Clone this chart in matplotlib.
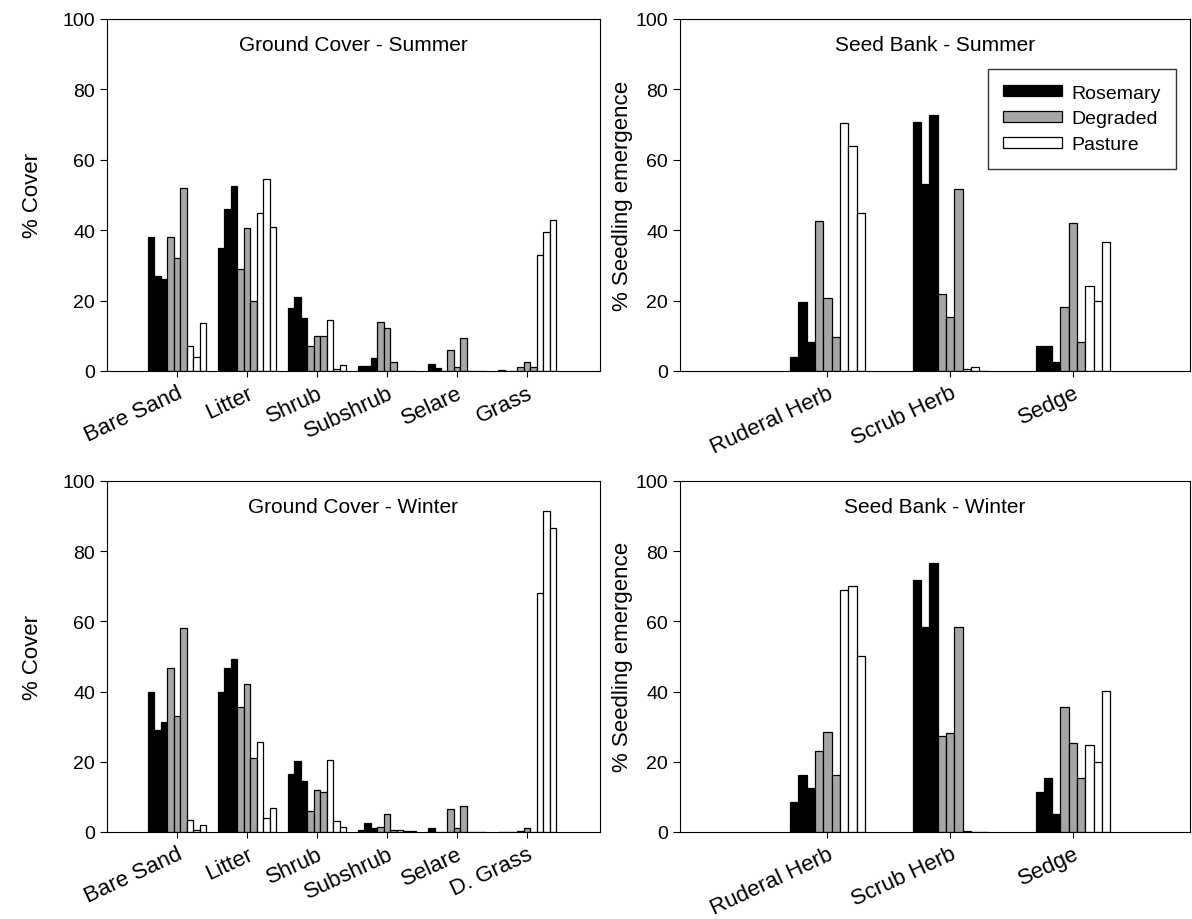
import numpy as np
import matplotlib
matplotlib.use("Agg")
import matplotlib.pyplot as plt

plt.rcParams["font.family"] = ["Liberation Sans", "DejaVu Sans"]

treatments = ["Rosemary", "Degraded", "Pasture"]
colors = ["black", "#a6a6a6", "white"]

cover_summer_cats = ["Bare Sand", "Litter", "Shrub", "Subshrub", "Selare", "Grass"]
cover_winter_cats = ["Bare Sand", "Litter", "Shrub", "Subshrub", "Selare", "D. Grass"]
seed_cats = ["Ruderal Herb", "Scrub Herb", "Sedge"]

# three sites per treatment, per category
cover_summer = {
    "Rosemary": [[38, 27, 26], [35, 46, 52.5], [18, 21, 15], [1.4, 1.4, 3.7], [2, 0.7, 0], [0.3, 0, 0]],
    "Degraded": [[38, 32, 52], [29, 40.5, 20], [7, 10, 10], [13.9, 12.2, 2.5], [6, 1, 9.5], [1, 2.5, 1]],
    "Pasture": [[7, 4, 13.5], [45, 54.5, 41], [14.5, 0.5, 1.7], [0, 0, 0], [0, 0, 0], [33, 39.5, 43]],
}
cover_winter = {
    "Rosemary": [[39.9, 29, 31.3], [39.9, 46.7, 49.3], [16.5, 20.3, 14.5], [0.5, 2.5, 1], [1, 0, 0], [0, 0, 0]],
    "Degraded": [[46.7, 33, 58], [35.6, 42.2, 21], [6, 12, 11.5], [1.5, 5, 0.5], [6.5, 1, 7.5], [0.3, 1, 0]],
    "Pasture": [[3.4, 0.5, 2], [25.6, 4, 6.8], [20.5, 3, 1.5], [0.5, 0.3, 0.3], [0, 0, 0], [68, 91.5, 86.6]],
}
seed_summer = {
    "Rosemary": [[4, 19.6, 8.2], [70.7, 53, 72.7], [7.1, 7.1, 2.6]],
    "Degraded": [[42.6, 20.7, 9.7], [21.9, 15.3, 51.7], [18.2, 42, 8.2]],
    "Pasture": [[70.5, 63.9, 44.9], [0.5, 1.2, 0], [24.2, 20, 36.6]],
}
seed_winter = {
    "Rosemary": [[8.5, 16.2, 12.5], [71.8, 58.4, 76.6], [11.4, 15.4, 5.1]],
    "Degraded": [[23, 28.5, 16.2], [27.4, 28.2, 58.4], [35.6, 25.4, 15.4]],
    "Pasture": [[69, 70, 50], [0.3, 0, 0], [24.8, 20, 40.2]],
}


def draw_panel(ax, cats, data, title, ylabel, group_w, xlim, ypad, legend=False):
    x = np.arange(len(cats))
    bw = group_w / 9
    for t, (name, col) in enumerate(zip(treatments, colors)):
        vals = np.array(data[name])
        for s in range(3):
            k = t * 3 + s
            off = -group_w / 2 + bw * (k + 0.5)
            ax.bar(x + off, vals[:, s], width=bw, color=col, edgecolor="black",
                   linewidth=0.9, label=name if s == 0 else None)
    ax.set_xlim(*xlim)
    ax.set_ylim(0, 100)
    ax.set_yticks([0, 20, 40, 60, 80, 100])
    ax.set_xticks(x)
    ax.set_xticklabels(cats, rotation=25, ha="right", rotation_mode="anchor", fontsize=16)
    ax.tick_params(axis="y", labelsize=14, direction="out", length=5)
    ax.tick_params(axis="x", direction="out", length=4, pad=4)
    ax.set_ylabel(ylabel, fontsize=16, labelpad=ypad)
    ax.text(0.5, 0.955, title, transform=ax.transAxes, ha="center", va="top", fontsize=15)
    for sp in ax.spines.values():
        sp.set_linewidth(0.8)
    if legend:
        ax.legend(loc="upper right", fontsize=14, frameon=True, fancybox=False,
                  edgecolor="black", handlelength=3.0, handleheight=0.5,
                  borderpad=0.8, labelspacing=0.45, handletextpad=0.5,
                  bbox_to_anchor=(0.993, 0.885))


fig = plt.figure(figsize=(11.92, 9.2), dpi=100)
ax1 = fig.add_axes([0.0898, 0.5957, 0.4135, 0.3826])
ax2 = fig.add_axes([0.5705, 0.5957, 0.4275, 0.3826])
ax3 = fig.add_axes([0.0898, 0.0946, 0.4135, 0.3816])
ax4 = fig.add_axes([0.5705, 0.0946, 0.4275, 0.3816])

draw_panel(ax1, cover_summer_cats, cover_summer, "Ground Cover - Summer", "% Cover", 0.83, (-1, 6.04), 14)
draw_panel(ax2, seed_cats, seed_summer, "Seed Bank - Summer", "% Seedling emergence", 0.61, (-1.2, 2.95), 2, legend=True)
draw_panel(ax3, cover_winter_cats, cover_winter, "Ground Cover - Winter", "% Cover", 0.83, (-1, 6.04), 14)
draw_panel(ax4, seed_cats, seed_winter, "Seed Bank - Winter", "% Seedling emergence", 0.61, (-1.2, 2.95), 2)

fig.savefig("out.png", dpi=100)
